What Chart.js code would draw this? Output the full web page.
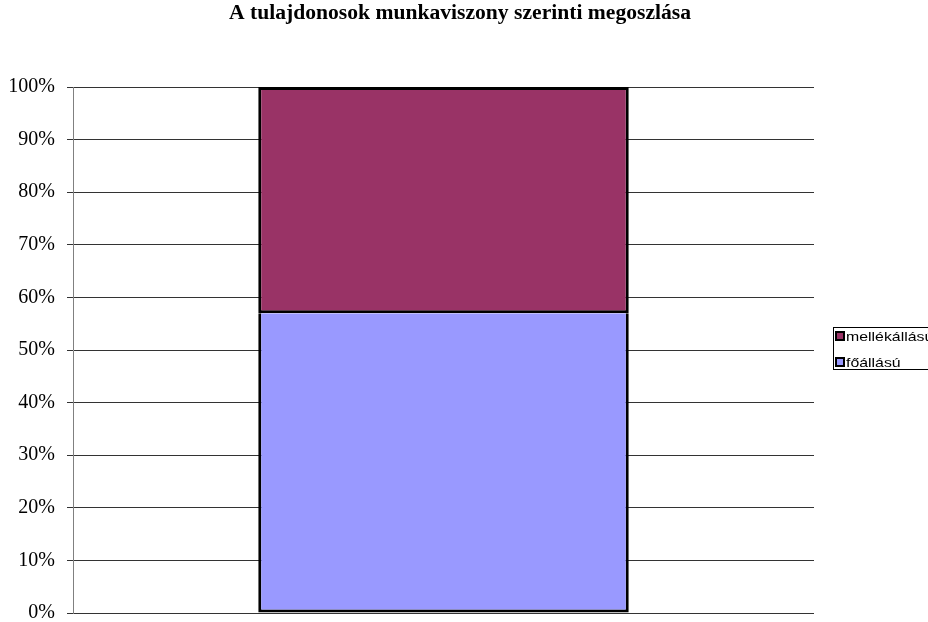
<!DOCTYPE html>
<html>
<head>
<meta charset="utf-8">
<script src="https://cdn.jsdelivr.net/npm/chart.js@4/dist/chart.umd.min.js"></script>
<style>
    html, body { margin: 0; padding: 0; background: #fff; }
    #wrap { width: 928px; height: 622px; }
</style>
</head>
<body>
<div id="wrap"><canvas id="chart" width="928" height="622"></canvas></div>
<script>
// Data
const categories = [''];
const foallasu = [57];
const mellekallasu = [43];
const seriesLabels = ['főállású', 'mellékállású'];
const seriesColors = ['#9999ff', '#993366'];
const titleText = 'A tulajdonosok munkaviszony szerinti megoszlása';

// Title centred on the whole canvas (not on the plot area)
const pageTitle = {
    id: 'pageTitle',
    afterDraw(chart) {
        const ctx = chart.ctx;
        ctx.save();
        ctx.translate(chart.width / 2 - 4, 14);
        ctx.scale(1.08, 1);
        ctx.fillStyle = '#000';
        ctx.font = 'bold 20px "Liberation Serif", "Times New Roman", serif';
        ctx.textAlign = 'center';
        ctx.textBaseline = 'middle';
        ctx.fillText(titleText, 0, 0);
        ctx.restore();
    }
};

// Boxed legend on the right (top item = upper stack)
const boxLegend = {
    id: 'boxLegend',
    afterDraw(chart) {
        const ctx = chart.ctx;
        const area = chart.chartArea;
        const left = area.right + 19;
        const top = 327;
        const sets = chart.data.datasets.slice().reverse();
        ctx.save();
        ctx.strokeStyle = '#000';
        ctx.lineWidth = 1;
        ctx.strokeRect(left + 0.5, top + 0.5, 200, 42);
        sets.forEach((ds, i) => {
            const cy = top + 9 + i * 26;
            ctx.fillStyle = ds.backgroundColor;
            ctx.fillRect(left + 3, cy - 4, 8, 8);
            ctx.lineWidth = 2;
            ctx.strokeRect(left + 3, cy - 4, 8, 8);
            ctx.save();
            ctx.translate(left + 13, cy + 1);
            ctx.scale(1.22, 1);
            ctx.fillStyle = '#000';
            ctx.font = '13px "Liberation Sans", Arial, sans-serif';
            ctx.textBaseline = 'middle';
            ctx.fillText(ds.label, 0, 0);
            ctx.restore();
        });
        ctx.restore();
    }
};

new Chart(document.getElementById('chart'), {
    type: 'bar',
    data: {
        labels: categories,
        datasets: [
            {
                label: seriesLabels[0],
                data: foallasu,
                backgroundColor: seriesColors[0],
                borderColor: '#000',
                borderWidth: { top: 0, right: 3, bottom: 3, left: 3 },
                borderSkipped: false
            },
            {
                label: seriesLabels[1],
                data: mellekallasu,
                backgroundColor: seriesColors[1],
                borderColor: '#000',
                borderWidth: { top: 3, right: 3, bottom: 3, left: 3 },
                borderSkipped: false
            }
        ]
    },
    options: {
        responsive: false,
        animation: false,
        layout: { padding: { left: 0, right: 114, top: 87, bottom: 9 } },
        datasets: { bar: { categoryPercentage: 0.5, barPercentage: 1 } },
        plugins: {
            legend: { display: false },
            tooltip: { enabled: false },
            title: { display: false }
        },
        scales: {
            x: {
                stacked: true,
                display: false
            },
            y: {
                stacked: true,
                min: 0,
                max: 100,
                afterFit(scale) {
                    scale.width = 73;
                    scale.paddingTop = 0;
                    scale.paddingBottom = 0;
                },
                border: { color: '#808080', width: 1 },
                grid: { color: '#333', lineWidth: 1, tickLength: 6, drawTicks: true },
                ticks: {
                    stepSize: 10,
                    padding: 12,
                    color: '#000',
                    font: { family: '"Liberation Serif", "Times New Roman", serif', size: 20 },
                    callback: v => v + '%'
                }
            }
        }
    },
    plugins: [pageTitle, boxLegend]
});
</script>
</body>
</html>
